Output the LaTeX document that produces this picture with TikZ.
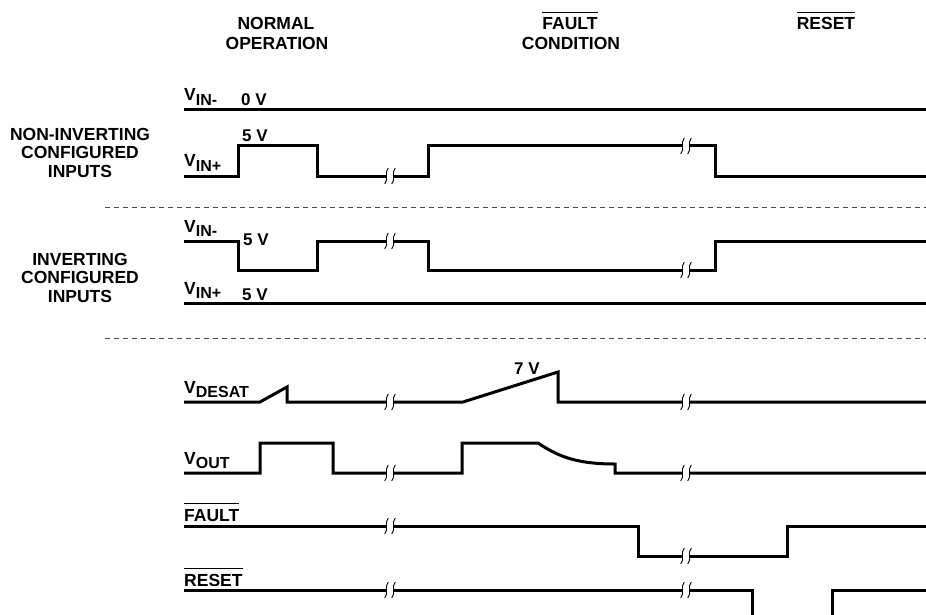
\documentclass[tikz,border=0pt]{standalone}
\usepackage{fontspec}
\setmainfont{Liberation Sans}
\newcommand\obar[1]{\vbox{\hrule height 1.3pt\kern 4.5pt\hbox{#1}}}
\newcommand\vsub[1]{V\raisebox{-4.5pt}{\fontsize{16}{16}\selectfont #1}}
\newcommand\brkmark[2]{%
  \fill[white] ({#1-3.5},{#2-2.2}) rectangle ({#1+3.5},{#2+2.2});
  \draw[brkline] ({#1-3.5+1.8},{#2-8}) .. controls ({#1-3.5-2.8},{#2-3}) and ({#1-3.5+2.8},{#2+3}) .. ({#1-3.5-1.8},{#2+8});
  \draw[brkline] ({#1+3.5+1.8},{#2-8}) .. controls ({#1+3.5-2.8},{#2-3}) and ({#1+3.5+2.8},{#2+3}) .. ({#1+3.5-1.8},{#2+8});
}
\begin{document}
\begin{tikzpicture}[x=1pt,y=-1pt,
  sig/.style={line width=3pt, line join=miter, line cap=butt},
  brkline/.style={line width=0.9pt},
  sep/.style={line width=1pt, gray!60!black, dash pattern=on 5pt off 4pt},
  grp/.style={font=\bfseries\fontsize{17.5}{20}\selectfont, inner sep=0pt, anchor=base},
  vl/.style={font=\bfseries\fontsize{17.5}{20}\selectfont, inner sep=0pt, anchor=base west},
  val/.style={font=\bfseries\fontsize{17}{20}\selectfont, inner sep=0pt, anchor=base west}]
\useasboundingbox (0,0) rectangle (926,615);

% top headers
\node[grp] (hn1) at (276,30) {NORMAL};
\node[grp] (hn2) at (277,50) {OPERATION};
\node[grp] (hf1) at (570,30) {\obar{FAULT}};
\node[grp] (hf2) at (571,50) {CONDITION};
\node[grp] (hr1) at (826,30) {\obar{RESET}};

% left group labels
\node[grp] (ln1) at (80,140) {NON-INVERTING};
\node[grp] (ln2) at (80,158) {CONFIGURED};
\node[grp] (ln3) at (80,177) {INPUTS};
\node[grp] (li1) at (80,265) {INVERTING};
\node[grp] (li2) at (80,283) {CONFIGURED};
\node[grp] (li3) at (80,302) {INPUTS};

% row A: VIN- non-inverting
\draw[sig] (184,110) -- (926,110);
\node[vl] (la) at (184,101) {\vsub{IN-}};
\node[val] (va) at (241,106) {0 V};

% row B: VIN+ non-inverting
\draw[sig] (184,176) -- (238,176) -- (238,146) -- (317,146) -- (317,176) -- (428,176) -- (428,146) -- (715,146) -- (715,176) -- (926,176);
\brkmark{390}{176}
\brkmark{686}{146}
\node[vl] (lb) at (184,167) {\vsub{IN+}};
\node[val] (vb) at (242,142) {5 V};

\draw[sep] (105,207) -- (926,207);

% row C: VIN- inverting
\draw[sig] (184,241) -- (238,241) -- (238,270) -- (317,270) -- (317,241) -- (428,241) -- (428,270) -- (715,270) -- (715,241) -- (926,241);
\brkmark{390}{241}
\brkmark{686}{270}
\node[vl] (lc) at (184,232) {\vsub{IN-}};
\node[val] (vc) at (243,245) {5 V};

% row D: VIN+ inverting
\draw[sig] (184,303) -- (926,303);
\node[vl] (ld) at (184,294) {\vsub{IN+}};
\node[val] (vd) at (242,300) {5 V};

\draw[sep] (105,338) -- (926,338);

% row E: VDESAT
\draw[sig] (184,402) -- (260,402) -- (287,387) -- (287,402) -- (463,402) -- (558,372) -- (558,402) -- (926,402);
\brkmark{390}{402}
\brkmark{686}{402}
\node[vl] (le) at (184,393) {\vsub{DESAT}};
\node[val] (ve) at (514,374) {7 V};

% row F: VOUT
\draw[sig] (184,473) -- (260,473) -- (260,443) -- (333,443) -- (333,473) -- (462,473) -- (462,443) -- (538,443) .. controls (560,458) and (580,464) .. (615,464) -- (615,473) -- (926,473);
\brkmark{390}{473}
\brkmark{686}{473}
\node[vl] (lf) at (184,464) {\vsub{OUT}};

% row G: FAULT
\draw[sig] (184,526) -- (638,526) -- (638,556) -- (787,556) -- (787,526) -- (926,526);
\brkmark{390}{526}
\brkmark{686}{556}
\node[vl] (lg) at (184,521) {\obar{FAULT}};

% row H: RESET
\draw[sig] (184,590) -- (752,590) -- (752,620);
\draw[sig] (832,620) -- (832,590) -- (926,590);
\brkmark{390}{590}
\brkmark{686}{590}
\node[vl] (lh) at (184,586) {\obar{RESET}};
\end{tikzpicture}
\end{document}
